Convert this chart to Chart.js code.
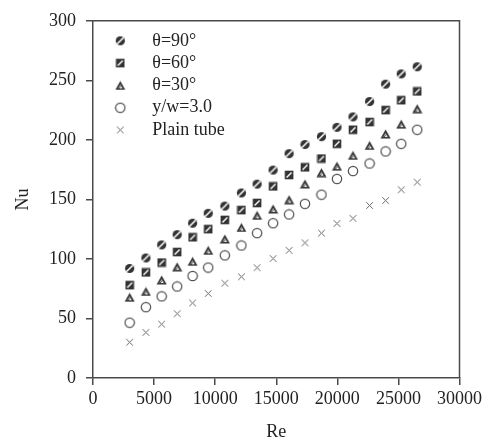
<!DOCTYPE html>
<html>
<head>
<meta charset="utf-8">
<script src="https://cdn.jsdelivr.net/npm/chart.js@4/dist/chart.umd.min.js"></script>
<style>
html,body{margin:0;padding:0;background:#fff;}
#wrap{width:485px;height:444px;}
</style>
</head>
<body>
<div id="wrap"><canvas id="c" width="485" height="444"></canvas></div>
<script>
// ---- data ----
const reValues = [3000, 4330, 5620, 6890, 8150, 9430, 10790, 12150, 13430, 14740, 16050, 17350, 18700, 19970, 21280, 22640, 23950, 25230, 26540];
const nuTheta90 = [92, 100.8, 111.8, 120.4, 130, 138.3, 144.4, 155.4, 162.8, 174.6, 188.4, 196.1, 202.7, 210.5, 219.3, 232.2, 246.8, 255.4, 261.4];
const nuTheta60 = [78, 88.7, 97, 105.8, 118.2, 125, 132.8, 141, 147, 160.9, 170.5, 176.9, 184.3, 196.7, 208.5, 215, 225, 233.3, 240.7];
const nuTheta30 = [67.8, 72.7, 82.4, 93.4, 98, 107.2, 116.8, 126.4, 136.6, 142, 149.8, 163, 172.5, 177.9, 187, 195.3, 205, 213.2, 226.2];
const nuYW30 = [46.5, 59.5, 68.6, 76.9, 85.7, 92.8, 103, 111.3, 121.7, 130, 137.4, 146.3, 154, 167.2, 173.8, 180.2, 190.3, 196.7, 208.5];
const nuPlain = [30, 38.3, 45.2, 54, 63, 71, 79.6, 85, 92.6, 100.3, 107.2, 113.5, 121.7, 129.8, 134.1, 144.9, 149, 158.1, 164.5];
const seriesLabels = ['θ=90°', 'θ=60°', 'θ=30°', 'y/w=3.0', 'Plain tube'];
const xTicks = [0, 5000, 10000, 15000, 20000, 25000, 30000];
const yTicks = [0, 50, 100, 150, 200, 250, 300];

// ---- marker images ----
function mk(w, h, fn){ const c=document.createElement('canvas'); c.width=w; c.height=h; fn(c.getContext('2d')); return c; }
const DARK = '#333';
const mHatchCircle = mk(11,11,ctx=>{
  ctx.beginPath(); ctx.arc(5.5,5.5,4.6,0,Math.PI*2); ctx.fillStyle=DARK; ctx.fill();
  ctx.save(); ctx.clip();
  ctx.strokeStyle='#fff'; ctx.lineWidth=1.6; ctx.beginPath(); ctx.moveTo(2.2,8.8); ctx.lineTo(8.8,2.2); ctx.stroke();
  ctx.restore();
});
const mHatchSquare = mk(10,10,ctx=>{
  ctx.fillStyle=DARK; ctx.fillRect(0.7,0.7,8.6,8.6);
  ctx.strokeStyle='#fff'; ctx.lineWidth=1.5; ctx.beginPath(); ctx.moveTo(2.5,7.5); ctx.lineTo(7.5,2.5); ctx.stroke();
});
const mHatchTri = mk(11,10,ctx=>{
  ctx.beginPath(); ctx.moveTo(5.5,0.5); ctx.lineTo(10.5,9.5); ctx.lineTo(0.5,9.5); ctx.closePath();
  ctx.fillStyle=DARK; ctx.fill();
  ctx.beginPath(); ctx.moveTo(5.5,4.2); ctx.lineTo(7.6,7.9); ctx.lineTo(3.4,7.9); ctx.closePath();
  ctx.fillStyle='#fff'; ctx.fill();
  ctx.strokeStyle=DARK; ctx.lineWidth=0.9; ctx.beginPath(); ctx.moveTo(3.8,8.2); ctx.lineTo(6.6,5); ctx.stroke();
});
const mOpenCircle = mk(12,12,ctx=>{
  ctx.beginPath(); ctx.arc(6,6,4.7,0,Math.PI*2); ctx.strokeStyle='#505050'; ctx.lineWidth=1.2; ctx.stroke();
});
const mCross = mk(9,9,ctx=>{
  ctx.strokeStyle='#666'; ctx.lineWidth=1; ctx.beginPath();
  ctx.moveTo(1.2,1.2); ctx.lineTo(7.8,7.8); ctx.moveTo(7.8,1.2); ctx.lineTo(1.2,7.8); ctx.stroke();
});
const markers = [mHatchCircle, mHatchSquare, mHatchTri, mOpenCircle, mCross];
const seriesValues = [nuTheta90, nuTheta60, nuTheta30, nuYW30, nuPlain];

const FONT = 'Liberation Serif';
const TXT = '#222';
const AX = '#4a4a4a';

const framePlugin = {
  id: 'frame',
  afterLayout(chart){
    const lg = chart.legend, a = chart.chartArea;
    if (lg) { lg.left = a.left; lg.right = a.right; lg.top = 27.5; lg.bottom = 27.5 + lg.height; }
  },
  beforeDatasetsDraw(chart){
    const {ctx, chartArea:a} = chart;
    ctx.save(); ctx.strokeStyle = AX; ctx.lineWidth = 1.5;
    ctx.beginPath(); ctx.moveTo(a.left, a.top); ctx.lineTo(a.right, a.top); ctx.lineTo(a.right, a.bottom); ctx.stroke();
    ctx.restore();
  }
};

new Chart(document.getElementById('c'), {
  type: 'scatter',
  data: {
    datasets: seriesLabels.map((lab, i) => ({
      label: lab,
      data: reValues.map((x, j) => ({x, y: seriesValues[i][j]})),
      pointStyle: markers[i],
      pointRadius: 5,
      showLine: false
    }))
  },
  options: {
    responsive: false,
    animation: false,
    events: [],
    layout: { padding: { left: 0, top: 15, right: 25, bottom: 0 } },
    plugins: {
      tooltip: { enabled: false },
      legend: {
        position: 'chartArea',
        align: 'start',
        labels: {
          usePointStyle: true,
          pointStyleWidth: 46,
          boxHeight: 10,
          padding: 4.3,
          color: TXT,
          font: { family: FONT, size: 18 }
        }
      }
    },
    scales: {
      x: {
        type: 'linear', min: 0, max: 30000,
        afterBuildTicks: s => { s.ticks = xTicks.map(v => ({value: v})); },
        afterFit: s => { s.height = 66; },
        border: { display: true, color: AX, width: 1.5 },
        grid: { drawOnChartArea: false, drawTicks: true, tickLength: 7, color: AX, lineWidth: 1.5 },
        ticks: { color: TXT, font: { family: FONT, size: 18 }, padding: 3, maxRotation: 0, callback: v => String(v) },
        title: { display: true, text: 'Re', color: TXT, font: { family: FONT, size: 18 }, padding: { top: 0, bottom: 1 } }
      },
      y: {
        type: 'linear', min: 0, max: 300,
        afterBuildTicks: s => { s.ticks = yTicks.map(v => ({value: v})); },
        afterFit: s => { s.width = 93; },
        border: { display: true, color: AX, width: 1.5 },
        grid: { drawOnChartArea: false, drawTicks: true, tickLength: 7, color: AX, lineWidth: 1.5 },
        ticks: { color: TXT, font: { family: FONT, size: 18 }, padding: 10, callback: v => String(v) },
        title: { display: true, text: 'Nu', color: TXT, font: { family: FONT, size: 18 }, padding: { top: 12, bottom: 0 } }
      }
    }
  },
  plugins: [framePlugin]
});
</script>
</body>
</html>
